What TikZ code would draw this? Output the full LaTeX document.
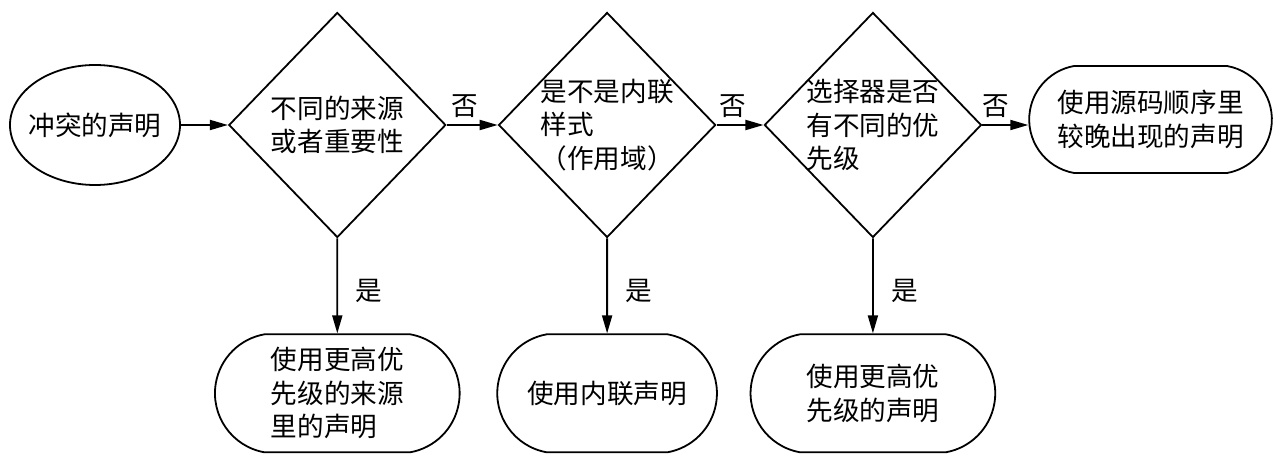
\documentclass[tikz,border=0pt]{standalone}
\usepackage{fontspec}
\setmainfont{Noto Sans CJK SC}
\usetikzlibrary{arrows.meta,positioning,shapes.geometric,shapes.misc}

\begin{document}
\begin{tikzpicture}[font=\fontsize{13.3pt}{16.8pt}\selectfont,
    >={Triangle[length=9pt,width=5pt]}, line width=0.9pt,
    conflict/.style={draw,ellipse,minimum width=85pt,minimum height=60pt,
                     inner sep=-4pt},
    decide/.style={draw,diamond,minimum width=108.5pt,minimum height=112.5pt,
                   inner sep=-2pt,align=left},
    outcome/.style={draw,rounded rectangle,rounded rectangle arc length=160,
                    minimum height=59pt,align=left}]
  \useasboundingbox (0,0) rectangle (640pt,-230pt);
  \node[conflict] (conf) at (47.5pt,-62.5pt) {冲突的声明};
  \node[decide,right=23.5pt of conf,align=center] (src) {不同的来源\\或者重要性};
  \node[decide,right=25.5pt of src] (inl) {是不是内联\\样式\\（作用域）};
  \node[decide,right=23.5pt of inl] (spec) {选择器是否\\有不同的优\\先级};
  \node[outcome,right=23pt of spec,yshift=2.75pt,minimum width=128pt,
        minimum height=53.5pt,align=center] (order)
        {使用源码顺序里\\较晚出现的声明};

  \draw[->] (conf) -- (src);
  \draw[->] (src)  -- node[above,pos=0.35] {否} (inl);
  \draw[->] (inl)  -- node[above,pos=0.35] {否} (spec);
  \draw[->] (spec) -- node[above,pos=0.3] {否} (spec -| order.west);

  \node[outcome,below=47.5pt of src,minimum width=129pt] (usesrc)
        {使用更高优\\先级的来源\\里的声明};
  \node[outcome,below=47.5pt of inl,minimum width=116.5pt] (useinl)
        {使用内联声明};
  \node[outcome,below=47.5pt of spec,minimum width=129pt] (usespec)
        {使用更高优\\先级的声明};

  \draw[->] (src)  -- node[right=5.5pt,pos=0.55] {是} (usesrc);
  \draw[->] (inl)  -- node[right=5.5pt,pos=0.55] {是} (useinl);
  \draw[->] (spec) -- node[right=5.5pt,pos=0.55] {是} (usespec);
\end{tikzpicture}
\end{document}
